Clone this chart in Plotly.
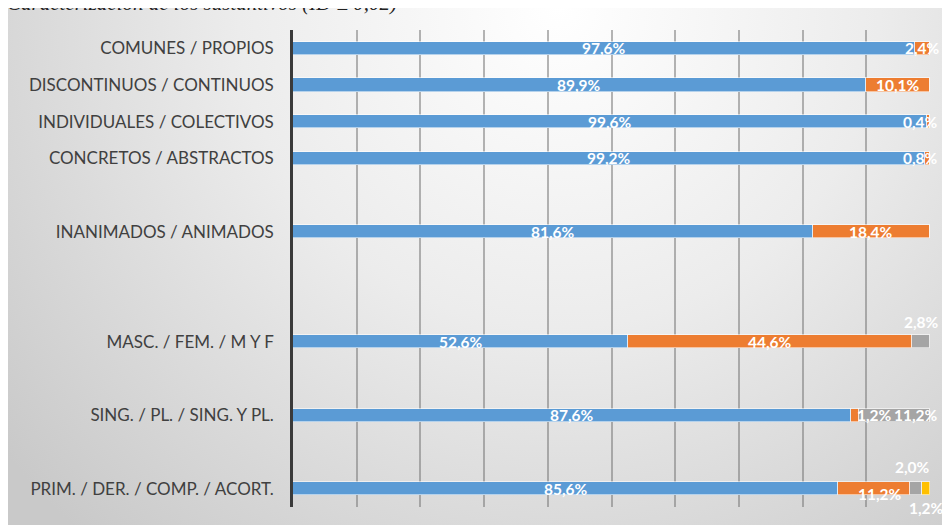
import base64
import plotly.graph_objects as go

# ---- data ----
categories = [
    "COMUNES / PROPIOS",
    "DISCONTINUOS / CONTINUOS",
    "INDIVIDUALES / COLECTIVOS",
    "CONCRETOS / ABSTRACTOS",
    "INANIMADOS / ANIMADOS",
    "MASC. / FEM. / M Y F",
    "SING. / PL. / SING. Y PL.",
    "PRIM. / DER. / COMP. / ACORT.",
]
row_pos = [0, 1, 2, 3, 5, 8, 10, 12]  # slot of each category (top to bottom)
serie1 = [97.6, 89.9, 99.6, 99.2, 81.6, 52.6, 87.6, 85.6]
serie2 = [2.4, 10.1, 0.4, 0.8, 18.4, 44.6, 1.2, 11.2]
serie3 = [0, 0, 0, 0, 0, 2.8, 11.2, 2.0]
serie4 = [0, 0, 0, 0, 0, 0, 0, 1.2]
title_text = "Caracterización de los sustantivos (ID ≥ 0,02)"

colors = ["#5B9BD5", "#ED7D31", "#A5A5A5", "#FFC000"]
series = [serie1, serie2, serie3, serie4]

fig = go.Figure()
for vals, col in zip(series, colors):
    fig.add_trace(go.Bar(
        y=row_pos, x=vals, orientation="h", width=0.36,
        marker=dict(color=col, line=dict(color="rgba(255,255,255,0.55)", width=1)),
        hoverinfo="skip", showlegend=False,
    ))

# label offsets (xshift, yshift) for crowded segments, keyed by (row, series)
offsets = {
    (2, 1): (-8, 0), (3, 1): (-7, 0),
    (5, 2): (0, 20),
    (6, 1): (20, 0), (6, 2): (22, 0),
    (7, 1): (6, -5), (7, 2): (-3, 22), (7, 3): (0, -19),
}

annotations = []
for r, pos in enumerate(row_pos):
    cum = 0.0
    for s, vals in enumerate(series):
        v = vals[r]
        if v > 0:
            xs, ys = offsets.get((r, s), (0, 0))
            annotations.append(dict(
                x=cum + v / 2, y=pos, xref="x", yref="y",
                text=f"{v:.1f}%".replace(".", ","), showarrow=False,
                xshift=xs, yshift=ys,
                font=dict(family="Lato", size=15.5, color="white", weight="bold"),
            ))
        cum += v

annotations.append(dict(
    x=-0.452, y=1.028, xref="paper", yref="paper", xanchor="left", yanchor="bottom",
    text=title_text, showarrow=False,
    font=dict(family="Liberation Serif", size=21, color="#222222", style="italic"),
))

svg = """<svg xmlns='http://www.w3.org/2000/svg' width='950' height='525' viewBox='0 0 950 525' preserveAspectRatio='none'>
<defs><radialGradient id='g' cx='0.58' cy='0.0' r='0.75' gradientTransform='translate(0.58,0) scale(1,1.8) translate(-0.58,0)'>
<stop offset='0' stop-color='#ffffff'/><stop offset='0.45' stop-color='#ececec'/><stop offset='1' stop-color='#c9c9c9'/></radialGradient></defs>
<rect width='950' height='525' fill='url(#g)'/></svg>"""
src = "data:image/svg+xml;base64," + base64.b64encode(svg.encode()).decode()

fig.update_layout(
    width=950, height=525,
    margin=dict(l=285, r=28, t=22, b=26),
    barmode="stack", bargap=0,
    paper_bgcolor="#d6d6d6", plot_bgcolor="rgba(0,0,0,0)",
    annotations=annotations,
    images=[dict(source=src, xref="paper", yref="paper", x=-0.4474, y=1.0461,
                 sizex=1.4914, sizey=1.1006, sizing="stretch", layer="below",
                 xanchor="left", yanchor="top")],
    xaxis=dict(range=[0, 100], tickvals=[10, 20, 30, 40, 50, 60, 70, 80, 90],
               showticklabels=False, showgrid=True,
               gridcolor="rgba(120,120,120,0.55)", gridwidth=1.5,
               zeroline=False, showline=False, fixedrange=True),
    yaxis=dict(range=[12.5, -0.5], tickvals=row_pos, ticktext=categories,
               showgrid=False, zeroline=False, showline=True,
               linecolor="#3a3a3a", linewidth=2.5, ticks="",
               ticklabelstandoff=13,
               tickfont=dict(family="Lato", size=17, color="#404040")),
)

fig.write_html("out.html")
